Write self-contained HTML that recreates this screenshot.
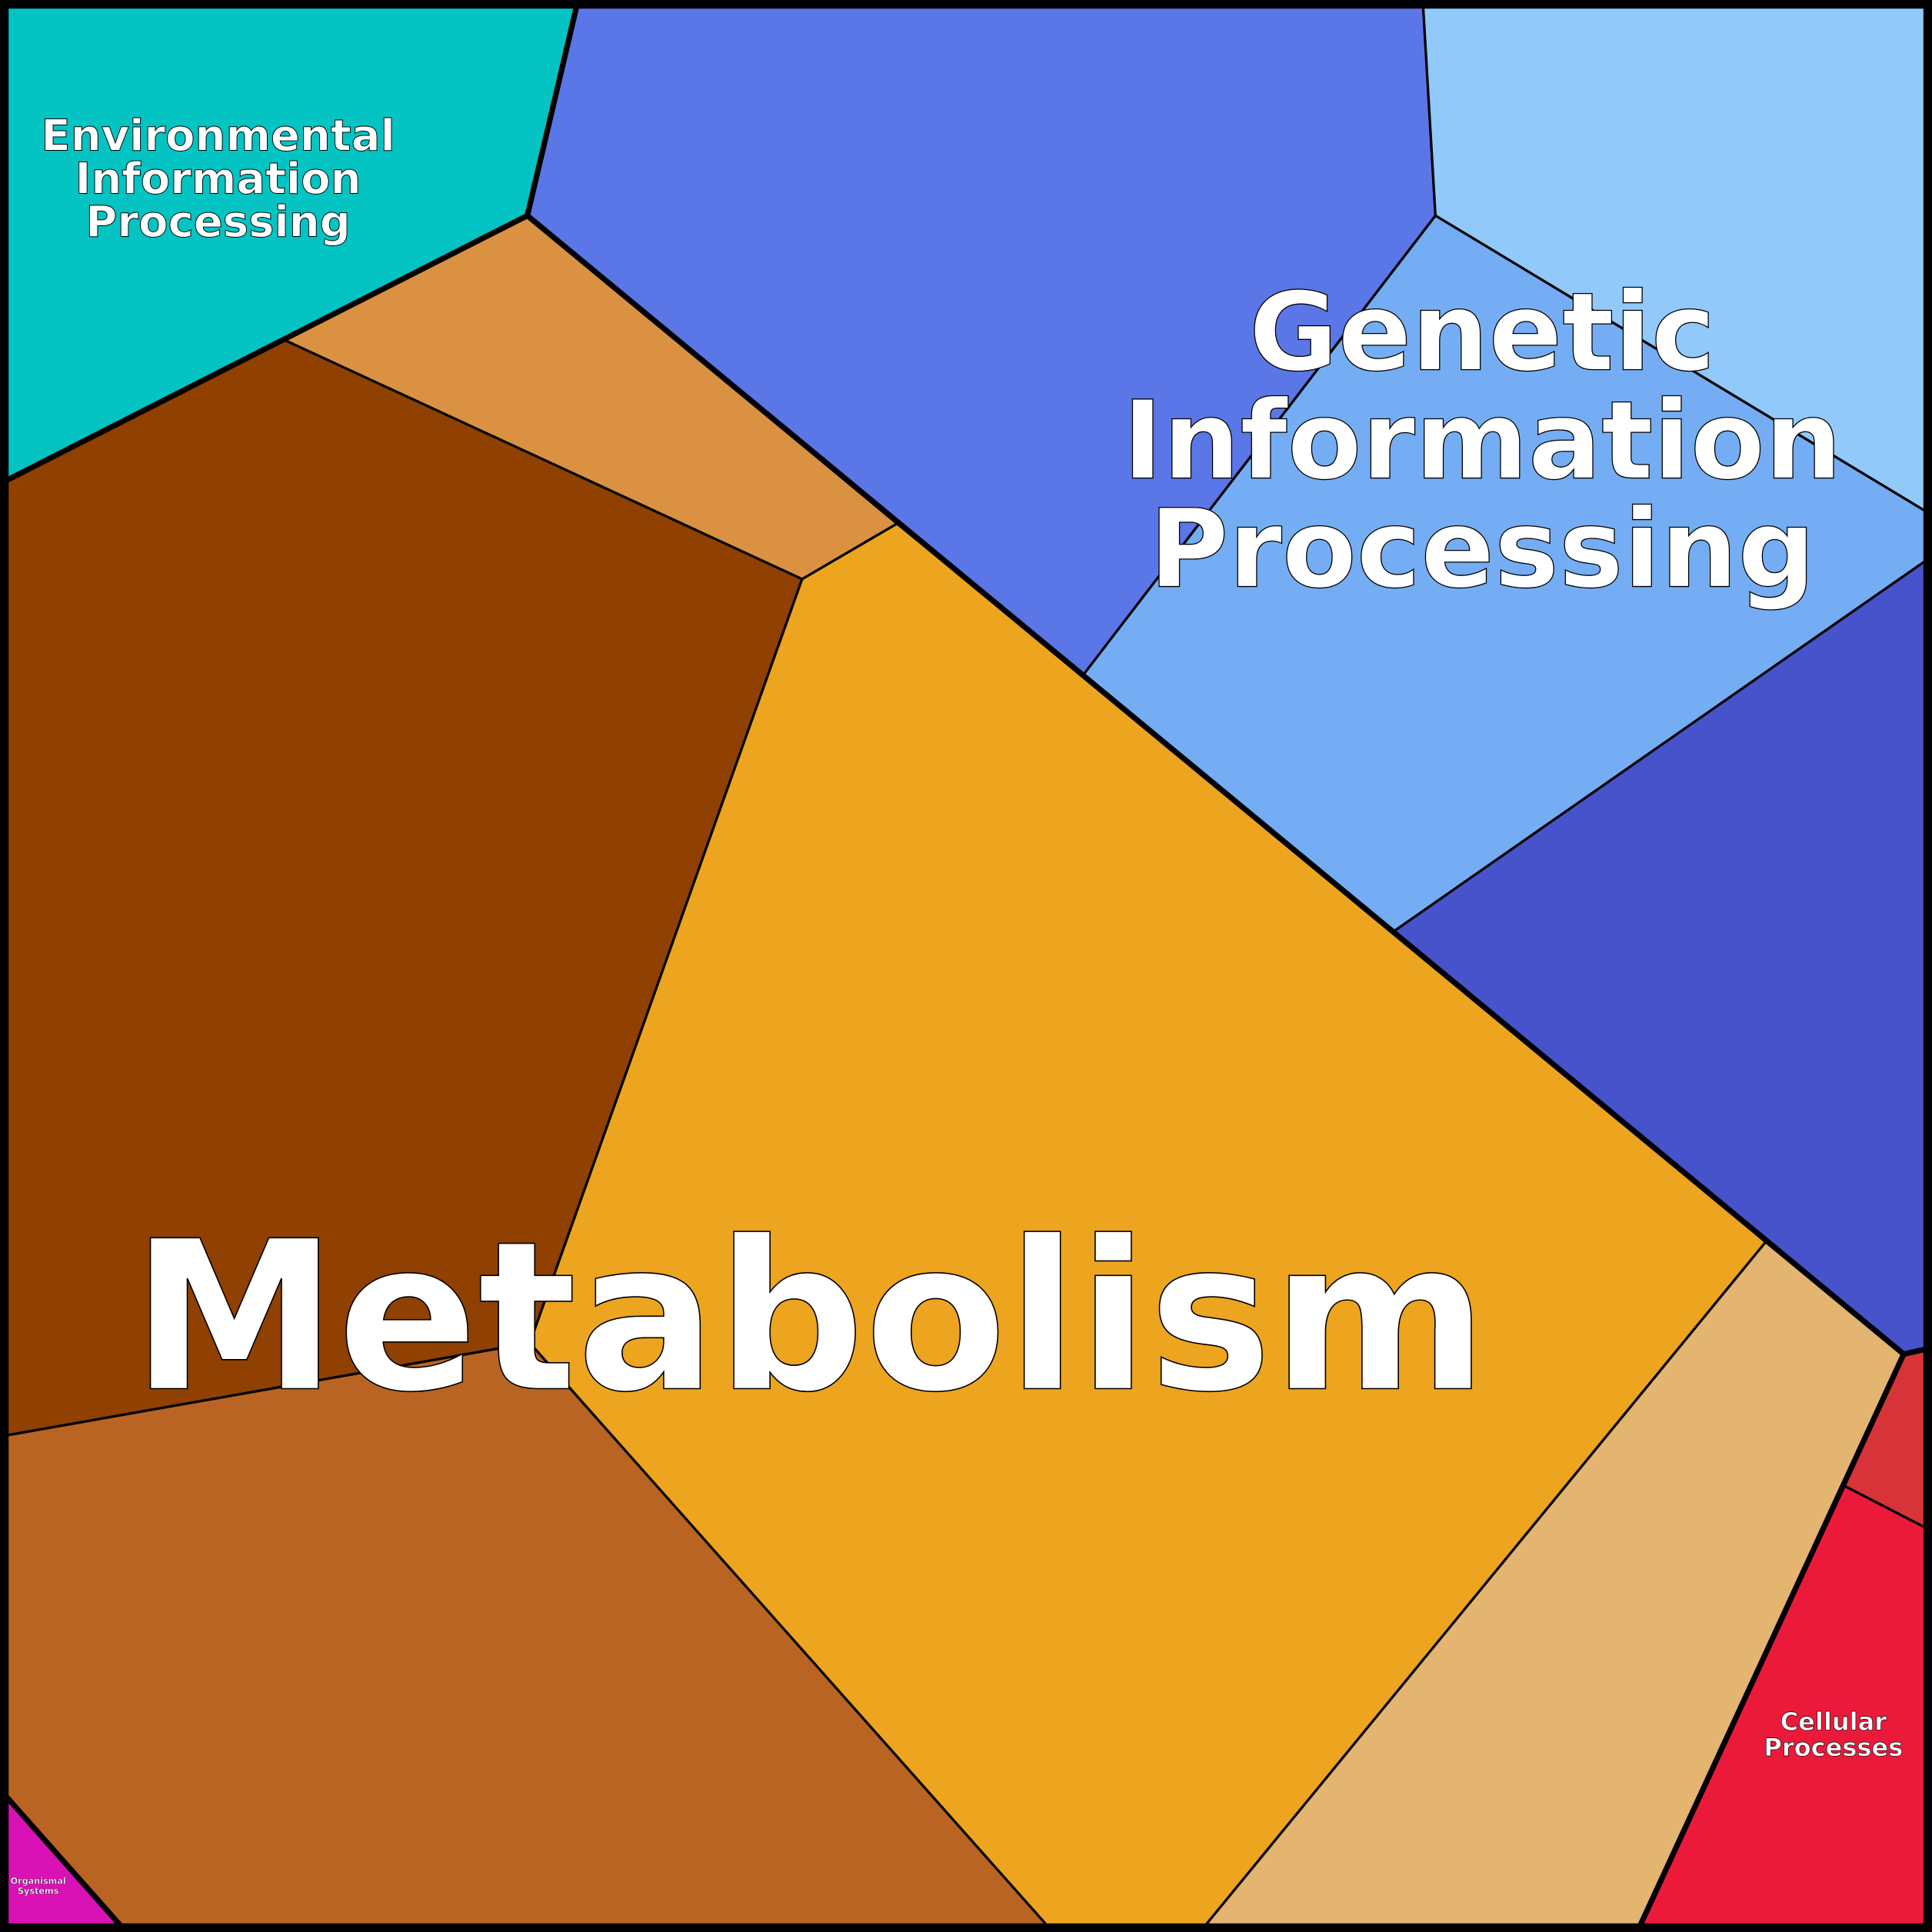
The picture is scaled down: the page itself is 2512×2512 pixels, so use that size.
<!DOCTYPE html>
<html><head><meta charset="utf-8"><style>
html,body{margin:0;padding:0;background:#fff}
svg{display:block}
text{font-family:"DejaVu Sans","Liberation Sans",sans-serif;font-weight:bold;fill:#fff;stroke:#000;text-anchor:middle}
</style></head><body>
<svg width="2512" height="2512" viewBox="0 0 1568 1568" xmlns="http://www.w3.org/2000/svg">
<g stroke="#000" stroke-width="2" stroke-linejoin="round">
<polygon fill="#03C3C3" points="5,5 468,5 428,175 231,276 5,390"/>
<polygon fill="#5B76E6" points="468,5 1155,5 1165,175 879,548 728,425 428,175"/>
<polygon fill="#90C9FA" points="1155,5 1563,5 1563,415 1165,175"/>
<polygon fill="#74ADF3" points="1165,175 1563,415 1563,455 1131,756 879,548"/>
<polygon fill="#4653CB" points="1563,455 1563,1095 1545,1099 1433,1008 1131,756"/>
<polygon fill="#DA9242" points="428,175 728,425 651,470 231,276"/>
<polygon fill="#904000" points="5,390 231,276 651,470 430,1090 5,1165"/>
<polygon fill="#EDA41F" points="651,470 728,425 879,548 1131,756 1433,1008 978,1563 850,1563 430,1090"/>
<polygon fill="#B96422" points="5,1165 430,1090 850,1563 98,1563 5,1458"/>
<polygon fill="#D912B6" points="5,1458 98,1563 5,1563"/>
<polygon fill="#E3B570" points="1433,1008 1545,1099 1331,1563 978,1563"/>
<polygon fill="#D73338" points="1545,1099 1563,1095 1563,1240 1497,1206"/>
<polygon fill="#EC1A3A" points="1497,1206 1563,1240 1563,1563 1331,1563"/>
</g>
<g stroke="#000" stroke-width="4.5" fill="none" stroke-linejoin="round">
<polyline points="468,5 428,175 5,390"/>
<polyline points="428,175 1545,1099 1563,1095"/>
<line x1="1545" y1="1099" x2="1331" y2="1563"/>
<line x1="5" y1="1458" x2="98" y2="1563"/>
</g>
<rect x="3.5" y="3.5" width="1561" height="1561" fill="none" stroke="#000" stroke-width="7"/>
<text x="657" y="1127" font-size="168" stroke-width="1">Metabolism</text>
<text x="1203" y="300" font-size="88" stroke-width="0.8">Genetic</text>
<text x="1203" y="388" font-size="88" stroke-width="0.8">Information</text>
<text x="1203" y="476" font-size="88" stroke-width="0.8">Processing</text>
<text x="177" y="122" font-size="35" stroke-width="0.6">Environmental</text>
<text x="177" y="157" font-size="35" stroke-width="0.6">Information</text>
<text x="177" y="192" font-size="35" stroke-width="0.6">Processing</text>
<text x="1488" y="1404" font-size="20" stroke-width="0.4">Cellular</text>
<text x="1488" y="1425" font-size="20" stroke-width="0.4">Processes</text>
<text x="31" y="1529" font-size="7" stroke-width="0.2">Organismal</text>
<text x="31" y="1537" font-size="7" stroke-width="0.2">Systems</text>
</svg>
</body></html>
